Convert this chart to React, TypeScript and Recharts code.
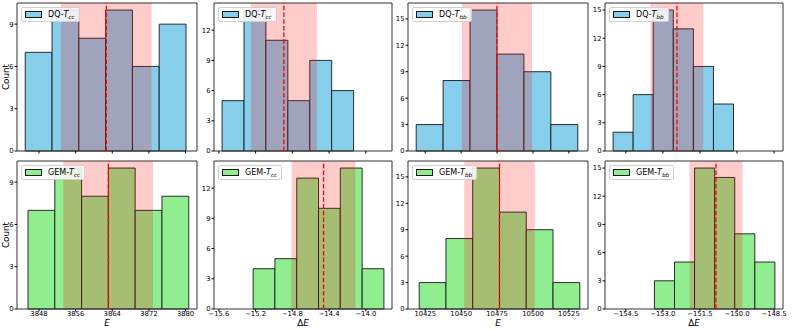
import React from 'react';
import { ComposedChart, XAxis, YAxis, ReferenceArea, ReferenceLine, Line } from 'recharts';

// ---------- data ----------
const dqTccEEdges = [3845.0, 3850.85, 3856.7, 3862.55, 3868.4, 3874.25, 3880.1];
const dqTccECounts = [7, 10, 8, 10, 6, 9];
const dqTccEBand = [3852.8, 3872.6];
const dqTccEMean = 3862.7;

const dqTccDEdges = [-15.565, -15.326, -15.088, -14.849, -14.61, -14.372, -14.133];
const dqTccDCounts = [5, 14, 11, 5, 9, 6];
const dqTccDBand = [-15.252, -14.532];
const dqTccDMean = -14.892;

const dqTbbEEdges = [10418.7, 10437.45, 10456.2, 10474.95, 10493.7, 10512.45, 10531.2];
const dqTbbECounts = [3, 8, 16, 11, 9, 3];
const dqTbbEBand = [10450.5, 10499.3];
const dqTbbEMean = 10474.9;

const dqTbbDEdges = [-155.013, -154.201, -153.389, -152.577, -151.765, -150.953, -150.141];
const dqTbbDCounts = [2, 6, 15, 13, 9, 5];
const dqTbbDBand = [-153.499, -151.365];
const dqTbbDMean = -152.43;

const gemTccEEdges = [3845.6, 3851.45, 3857.3, 3863.15, 3869.0, 3874.85, 3880.7];
const gemTccECounts = [7, 10, 8, 10, 7, 8];
const gemTccEBand = [3853.3, 3872.9];
const gemTccEMean = 3863.15;

const gemTccDEdges = [-15.227, -14.99, -14.752, -14.515, -14.278, -14.04, -13.803];
const gemTccDCounts = [4, 5, 13, 10, 14, 4];
const gemTccDBand = [-14.809, -14.111];
const gemTccDMean = -14.46;

const gemTbbEEdges = [10420.8, 10439.43, 10458.06, 10476.69, 10495.32, 10513.95, 10532.6];
const gemTbbECounts = [3, 8, 16, 11, 9, 3];
const gemTbbEBand = [10452.1, 10501.2];
const gemTbbEMean = 10476.7;

const gemTbbDEdges = [-153.34, -152.528, -151.716, -150.904, -150.092, -149.28, -148.468];
const gemTbbDCounts = [3, 5, 15, 14, 8, 5];
const gemTbbDBand = [-151.918, -149.78];
const gemTbbDMean = -150.85;

const eCcTicks = [3848, 3856, 3864, 3872, 3880];
const dCcTicks = [-15.6, -15.2, -14.8, -14.4, -14.0];
const eBbTicks = [10425, 10450, 10475, 10500, 10525];
const dBbTicks = [-154.5, -153.0, -151.5, -150.0, -148.5];

const eCcDomain = [3843.2, 3882.5];
const dCcDomain = [-15.653, -13.715];
const eBbDomain = [10413.0, 10538.3];
const dBbDomain = [-155.34, -148.14];

const yTicksCcE = [0, 3, 6, 9];
const yTicksCcD = [0, 3, 6, 9, 12];
const yTicksBb = [0, 3, 6, 9, 12, 15];
const yMaxCcE = 10.5;
const yMaxCcD = 14.7;
const yMaxBbE = 16.8;
const yMaxBbD = 15.75;

// ---------- layout ----------
const FONT = 'DejaVu Sans';
const COLS = [
  { x: 17, w: 180 },
  { x: 214, w: 178 },
  { x: 408, w: 180 },
  { x: 605, w: 178 },
];
const ROWS = [
  { y: 3, h: 148 },
  { y: 161, h: 148 },
];
const YW = 22;
const RM = 14;
const TICK_FS = 6.8;

const BLUE = '#87CEEB';
const GREEN = '#90EE90';

const fmtNum = (dec: number) => (v: number) => {
  const s = Math.abs(v).toFixed(dec);
  return (v < 0 ? '\u2212' : '') + s;
};

type PanelProps = {
  col: number;
  row: number;
  edges: number[];
  counts: number[];
  band: number[];
  mean: number;
  color: string;
  prefix: string;
  sub: string;
  xDomain: number[];
  xTicks: number[];
  xDec: number;
  yMax: number;
  yTicks: number[];
};

function Panel(p: PanelProps) {
  const c = COLS[p.col];
  const r = ROWS[p.row];
  const showX = p.row === 1;
  const XH = showX ? 14 : 5;
  const data = p.counts.map((n, i) => ({ mid: (p.edges[i] + p.edges[i + 1]) / 2, count: n }));
  const W = YW + c.w + RM;
  const H = 1 + r.h + XH;
  return (
    <div style={{ position: 'absolute', left: c.x - YW, top: r.y - 1, width: W, height: H }}>
      <ComposedChart width={W} height={H} data={data} margin={{ top: 1, right: RM, left: 0, bottom: 0 }}>
        <XAxis
          type="number"
          dataKey="mid"
          domain={p.xDomain}
          ticks={p.xTicks}
          allowDataOverflow
          interval={0}
          height={XH}
          tickSize={2.5}
          tickMargin={0}
          axisLine={false}
          stroke="#000"
          tick={{ fontSize: TICK_FS, fill: '#000', fontFamily: FONT }}
          tickFormatter={showX ? fmtNum(p.xDec) : () => ''}
        />
        <YAxis
          type="number"
          domain={[0, p.yMax]}
          ticks={p.yTicks}
          allowDataOverflow
          interval={0}
          width={YW}
          tickSize={2.5}
          tickMargin={1}
          axisLine={false}
          stroke="#000"
          tick={{ fontSize: TICK_FS, fill: '#000', fontFamily: FONT }}
        />
        {p.counts.map((n, i) => (
          <ReferenceArea
            key={'b' + i}
            x1={p.edges[i]}
            x2={p.edges[i + 1]}
            y1={0}
            y2={n}
            fill={p.color}
            fillOpacity={1}
            stroke="#1a1a1a"
            strokeWidth={1}
            strokeOpacity={0.9}
          />
        ))}
        <ReferenceArea
          x1={p.band[0]}
          x2={p.band[1]}
          y1={0}
          y2={p.yMax}
          fill="#ff0000"
          fillOpacity={0.2}
          stroke="none"
        />
        <ReferenceLine x={p.mean} stroke="#ff0000" strokeWidth={1.3} strokeDasharray="4.5 2.2" />
        <ReferenceArea
          x1={p.xDomain[0]}
          x2={p.xDomain[1]}
          y1={0}
          y2={p.yMax}
          fill="none"
          stroke="#333"
          strokeWidth={1}
        />
        <Line dataKey="count" stroke="none" dot={false} activeDot={false} isAnimationActive={false} />
      </ComposedChart>
      <div
        style={{
          position: 'absolute',
          left: YW + 4,
          top: 1 + 4,
          height: 13,
          padding: '0 4px 0 3px',
          border: '1px solid #d0d0d0',
          borderRadius: 2,
          background: 'rgba(255,255,255,0.85)',
          display: 'flex',
          alignItems: 'center',
          fontFamily: FONT,
          fontSize: 8,
          color: '#000',
          whiteSpace: 'nowrap',
        }}
      >
        <span
          style={{
            display: 'inline-block',
            width: 15,
            height: 5,
            background: p.color,
            border: '1px solid #1a1a1a',
            marginRight: 6,
          }}
        />
        <span>
          {p.prefix}
          <i>T</i>
          <sub style={{ fontStyle: 'italic', fontSize: 5.6, verticalAlign: 'baseline', position: 'relative', top: 1.6 }}>{p.sub}</sub>
        </span>
      </div>
    </div>
  );
}

const panels: PanelProps[] = [
  { col: 0, row: 0, edges: dqTccEEdges, counts: dqTccECounts, band: dqTccEBand, mean: dqTccEMean, color: BLUE, prefix: 'DQ-', sub: 'cc', xDomain: eCcDomain, xTicks: eCcTicks, xDec: 0, yMax: yMaxCcE, yTicks: yTicksCcE },
  { col: 1, row: 0, edges: dqTccDEdges, counts: dqTccDCounts, band: dqTccDBand, mean: dqTccDMean, color: BLUE, prefix: 'DQ-', sub: 'cc', xDomain: dCcDomain, xTicks: dCcTicks, xDec: 1, yMax: yMaxCcD, yTicks: yTicksCcD },
  { col: 2, row: 0, edges: dqTbbEEdges, counts: dqTbbECounts, band: dqTbbEBand, mean: dqTbbEMean, color: BLUE, prefix: 'DQ-', sub: 'bb', xDomain: eBbDomain, xTicks: eBbTicks, xDec: 0, yMax: yMaxBbE, yTicks: yTicksBb },
  { col: 3, row: 0, edges: dqTbbDEdges, counts: dqTbbDCounts, band: dqTbbDBand, mean: dqTbbDMean, color: BLUE, prefix: 'DQ-', sub: 'bb', xDomain: dBbDomain, xTicks: dBbTicks, xDec: 1, yMax: yMaxBbD, yTicks: yTicksBb },
  { col: 0, row: 1, edges: gemTccEEdges, counts: gemTccECounts, band: gemTccEBand, mean: gemTccEMean, color: GREEN, prefix: 'GEM-', sub: 'cc', xDomain: eCcDomain, xTicks: eCcTicks, xDec: 0, yMax: yMaxCcE, yTicks: yTicksCcE },
  { col: 1, row: 1, edges: gemTccDEdges, counts: gemTccDCounts, band: gemTccDBand, mean: gemTccDMean, color: GREEN, prefix: 'GEM-', sub: 'cc', xDomain: dCcDomain, xTicks: dCcTicks, xDec: 1, yMax: yMaxCcD, yTicks: yTicksCcD },
  { col: 2, row: 1, edges: gemTbbEEdges, counts: gemTbbECounts, band: gemTbbEBand, mean: gemTbbEMean, color: GREEN, prefix: 'GEM-', sub: 'bb', xDomain: eBbDomain, xTicks: eBbTicks, xDec: 0, yMax: yMaxBbE, yTicks: yTicksBb },
  { col: 3, row: 1, edges: gemTbbDEdges, counts: gemTbbDCounts, band: gemTbbDBand, mean: gemTbbDMean, color: GREEN, prefix: 'GEM-', sub: 'bb', xDomain: dBbDomain, xTicks: dBbTicks, xDec: 1, yMax: yMaxBbD, yTicks: yTicksBb },
];

const xLabels = [
  { col: 0, delta: false },
  { col: 1, delta: true },
  { col: 2, delta: false },
  { col: 3, delta: true },
];

export default function App() {
  return (
    <div style={{ position: 'absolute', left: 0, top: 0, width: 793, height: 329, background: '#fff', overflow: 'hidden' }}>
      {panels.map((p, i) => (
        <Panel key={i} {...p} />
      ))}
      {ROWS.map((r, i) => (
        <div
          key={'yl' + i}
          style={{
            position: 'absolute',
            left: 6 - 30,
            top: r.y + r.h / 2 - 6,
            width: 60,
            height: 12,
            lineHeight: '12px',
            textAlign: 'center',
            transform: 'rotate(-90deg)',
            fontFamily: FONT,
            fontSize: 8.8,
            color: '#000',
          }}
        >
          Count
        </div>
      ))}
      {xLabels.map((l, i) => {
        const c = COLS[l.col];
        return (
          <div
            key={'xl' + i}
            style={{
              position: 'absolute',
              left: c.x + c.w / 2 - 30,
              top: 317,
              width: 60,
              height: 12,
              lineHeight: '12px',
              textAlign: 'center',
              fontFamily: FONT,
              fontSize: 8.8,
              color: '#000',
            }}
          >
            {l.delta ? '\u0394' : ''}
            <i>E</i>
          </div>
        );
      })}
    </div>
  );
}
